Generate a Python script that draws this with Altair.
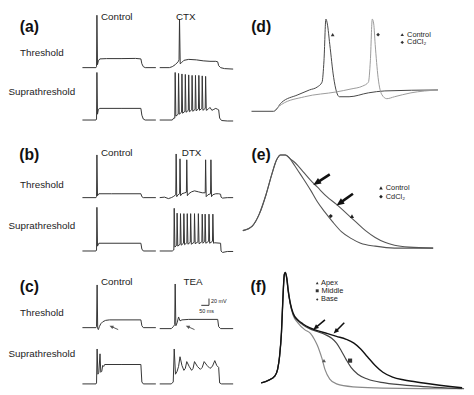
import math
import altair as alt
import pandas as pd

# ---------------- layout of the left column (reference-figure units) ----------------
COL_X0 = {"ctrl": 77, "drug": 157}
ROW_BASE = {"a_thr": 57, "a_sup": 111, "b_thr": 191, "b_sup": 246, "c_thr": 325, "c_sup": 383}

# ---------------- left column traces: (time, depolarisation) relative to trace start/baseline ----------------
A_CTRL_THR = [(0, 0), (14, 0), (14.6, 1), (15, 54), (15.6, 3), (16.5, 7), (18, 9), (25, 9.3), (40, 9.3),
              (55, 9.5), (60.5, 9), (61.5, 4), (63, 1), (65, 0), (76, 0)]
A_CTX_THR = [(0, 0), (10, 0), (13, 1), (16, 3), (19, 6), (20, 8), (20.5, 50), (21.2, 4), (22.5, 5), (25, 7.5),
             (30, 8.5), (38, 8), (45, 7), (52, 6.5), (58, 6.5), (60, 6), (61, 2), (63, 0), (67, -1), (76, -1.5)]
A_CTRL_SUP = [(0, 0), (14, 0), (14.6, 1), (15, 49), (15.6, 6), (16.5, 11), (18, 12), (40, 12), (60.5, 12),
              (61.5, 5), (63, 1), (65, 0), (76, 0)]
A_CTX_SUP_PRE = [(0, 0), (13, 0), (14.5, 2)]
A_CTX_SUP_SPIKES = [16, 19.5, 23, 26.5, 30, 33.5, 37, 40.5, 44, 47.5]
A_CTX_SUP_TOPS = [49, 48, 47.5, 47, 46.5, 46, 46, 46, 45.5, 45]
A_CTX_SUP_TROUGHS = [4, 6, 7, 8, 8.5, 9, 9.5, 10, 10, 10]
A_CTX_SUP_POST = [(50, 11), (52, 13), (54, 10), (56, 11), (58, 12), (60, 11), (61, 10.5), (62, 2), (64, -0.5),
                  (70, -1), (76, -1)]

B_CTRL_THR = [(0, 0), (14, 0), (14.6, 1), (15, 44), (15.6, 2), (17, 4), (30, 4), (60.5, 4), (61.5, 1), (63, 0), (76, 0)]
B_DTX_THR = [(0, 0), (5, 0.5), (9, -1), (12, 0), (14, 1), (16.6, 3), (17, 45), (17.6, 1), (19, 3), (20.6, 4),
             (21, 40), (21.6, 2), (23, 4), (26, 5), (27.6, 5.5), (28, 39), (28.6, 2), (30, 4), (33, 6), (36, 7),
             (40, 6), (44, 5), (47.1, 5), (47.5, 39), (48.1, 1), (50, 3), (52.6, 4), (53, 39), (53.6, 1), (55, 3),
             (58, 4), (61, 4), (63, 3.5), (63.5, 0.5), (65, -0.5), (70, 0), (76, 0)]
B_CTRL_SUP = [(0, 0), (14, 0), (14.6, 1), (15, 45), (15.6, 5), (17, 8), (60.5, 8), (61.5, 2), (63, 0), (76, 0)]
B_DTX_SUP_PRE = [(0, 0), (13, 0), (14.4, 1)]
B_DTX_SUP_SPIKES = [15, 18, 21.5, 25, 28.5, 32, 36, 40, 44, 47, 51, 55]
B_DTX_SUP_TOPS = [44, 39, 38.5, 38.5, 38.5, 38.5, 38.5, 38.5, 38, 38, 38, 38]
B_DTX_SUP_TROUGHS = [4, 5, 6, 6.5, 7, 7, 7.5, 7.5, 8, 8, 8, 8]
B_DTX_SUP_POST = [(57, 8.5), (63, 8), (63.5, 0), (65, -1.5), (70, -0.5), (76, -0.5)]

C_CTRL_THR = [(0, 0), (14, 0), (14.6, 1), (15.2, 44), (15.8, -1), (16.5, -2), (17.5, 1), (19, 4), (21, 6),
              (24, 7.5), (28, 8), (60.5, 8), (61.5, 2), (63, 0), (76, 0)]
C_TEA_THR = [(0, -1), (12, -1), (14, 1), (15.5, 3), (16, 45), (16.7, 2), (18, 5), (19.5, 11), (21, 7), (23, 8),
             (30, 8.5), (60, 8.5), (61, 1), (63, -1), (76, -1)]
C_CTRL_SUP = [(0, 0), (14, 0), (14.6, 1), (15.2, 36), (16, 10), (17, 12), (18.2, 31), (19, 12), (20, 13),
              (21, 19), (22, 18), (23, 20), (40, 20), (60.5, 20), (61.5, 2), (63, 0), (76, 0)]
C_TEA_SUP = [(0, 0), (12, 0), (14, 2), (15, 36), (16.3, 10), (18, 13), (19.5, 18), (21, 28), (23, 19), (25, 14),
             (26.5, 16), (28, 23), (30.5, 18), (33, 14), (34.5, 16), (36, 23), (39, 18), (42, 15), (44, 17),
             (46, 23), (49, 19), (52, 16), (54.5, 18), (57, 24), (59, 19), (61, 17), (62, 1), (64, 0), (76, 0)]

# ---------------- right column traces (figure units) ----------------
D_CTRL = [(252, 102), (275, 102), (283, 93), (300, 85), (312, 80), (320, 77), (325, 72), (327, 50), (329, 7),
          (330.5, 12), (333, 33), (337, 67), (340, 82), (343, 87), (353, 87), (373, 83), (390, 81), (445, 80)]
D_CDCL2 = [(275, 102), (283, 95), (307, 87), (340, 82), (355, 79), (367, 76), (373, 72), (375, 50), (377, 7),
           (378.5, 12), (380, 33), (383, 67), (387, 85), (392, 89), (400, 87), (417, 83), (445, 80)]

E_RISE = [(243, 225), (253, 220), (260, 208), (267, 188), (273, 167), (278, 152), (282, 147), (287, 147),
          (292, 151)]
E_CTRL = [(296, 154), (300, 158), (306, 165), (313, 173), (320, 180), (330, 190), (340, 198), (350, 207),
          (360, 216), (370, 225), (380, 232), (390, 237), (400, 240), (415, 242), (440, 243)]
E_CDCL2 = [(296, 157), (300, 163), (306, 172), (313, 183), (320, 195), (328, 206), (336, 216), (345, 226),
           (355, 233), (365, 238), (380, 241), (400, 243), (440, 243)]

F_RISE = [(262, 382), (270, 379), (276, 375), (279, 368), (281, 355), (283, 330), (284.5, 295), (286, 270)]
F_APEX = [(287, 268), (288.5, 273), (290, 285), (292, 300), (295, 312), (300, 320), (307, 327), (313, 331),
          (317, 337), (320, 343), (322, 348), (325, 357), (328, 368), (333, 378), (340, 383), (357, 386),
          (380, 387), (470, 388)]
F_MIDDLE = [(287, 269), (288.5, 275), (290, 288), (292, 300), (295, 311), (300, 318), (305, 322), (312, 326),
            (320, 329), (328, 332), (335, 336), (340, 341), (345, 349), (350, 358), (355, 366), (362, 373),
            (372, 378), (390, 382), (420, 385), (472, 388)]
F_BASE = [(287, 268), (288.5, 274), (290, 287), (292, 299), (295, 310), (300, 317), (305, 321), (312, 325),
          (320, 328), (330, 331), (340, 334), (350, 337), (358, 341), (365, 347), (372, 355), (380, 364),
          (388, 371), (398, 376), (410, 379), (430, 382), (470, 387)]

# ---------------- annotations ----------------
ARROWS = [  # tail x, tail y, head x, head y, colour, width, head size
    (114, 327, 105, 323, "#555555", 1.0, 22),
    (193, 327, 184, 323, "#555555", 1.0, 22),
    (333, 167, 316, 178, "#111111", 2.6, 80),
    (357, 187, 340, 199, "#111111", 2.6, 80),
    (328, 317, 316, 327, "#111111", 1.6, 40),
    (348, 320, 337, 331, "#111111", 1.6, 40),
]
SCALE_BARS = [(200, 302, 208, 302), (208, 295, 208, 302)]
MARKERS = [  # x, y, shape, colour, size
    (336, 23, "triangle-up", "#333333", 14), (383, 23, "diamond", "#333333", 14),
    (408, 23, "triangle-up", "#333333", 12), (408, 31, "diamond", "#333333", 12),
    (356, 210, "triangle-up", "#222222", 18), (334, 210, "diamond", "#222222", 18),
    (386, 181, "triangle-up", "#222222", 14), (386, 190, "diamond", "#222222", 14),
    (327, 359, "triangle-up", "#555555", 16), (354, 359, "square", "#333333", 18),
    (320, 279, "triangle-up", "#333333", 8), (320, 287, "square", "#333333", 9), (320, 296, "diamond", "#333333", 6),
]
PANEL_LABELS = [("(a)", 22, 15), ("(b)", 22, 147), ("(c)", 22, 283), ("(d)", 262, 15), ("(e)", 262, 147), ("(f)", 259, 283)]
HEADERS = [("Control", 112.5, 5), ("CTX", 184, 5), ("Control", 112.5, 145), ("DTX", 190, 145),
           ("Control", 112.5, 278), ("TEA", 191.5, 278),
           ("Threshold", 35, 42), ("Suprathreshold", 35, 82), ("Threshold", 35, 178), ("Suprathreshold", 35, 220),
           ("Threshold", 35, 310), ("Suprathreshold", 35, 352)]
LEGEND_TEXT = [("Control", 413, 23, 7.5), ("CdCl₂", 413, 31, 7.5), ("Control", 391, 181, 7.5), ("CdCl₂", 391, 190, 7.5),
               ("Apex", 324, 279, 7.5), ("Middle", 324.4, 287.3, 7.6), ("Base", 324, 296, 7.5),
               ("20 mV", 210, 298, 5.5), ("50 ms", 198, 308, 5.5)]


def train(pre, spikes, tops, troughs, post):
    pts = list(pre)
    for i, (s, top, tr) in enumerate(zip(spikes, tops, troughs)):
        before = troughs[i - 1] + 2.0 if i > 0 else pre[-1][1]
        pts += [(s - 0.4, before), (s, top), (s + 0.7, tr)]
    return pts + list(post)


A_CTX_SUP = train(A_CTX_SUP_PRE, A_CTX_SUP_SPIKES, A_CTX_SUP_TOPS, A_CTX_SUP_TROUGHS, A_CTX_SUP_POST)
B_DTX_SUP = train(B_DTX_SUP_PRE, B_DTX_SUP_SPIKES, B_DTX_SUP_TOPS, B_DTX_SUP_TROUGHS, B_DTX_SUP_POST)

LEFT = [
    ("a1", "ctrl", "a_thr", A_CTRL_THR), ("a2", "drug", "a_thr", A_CTX_THR),
    ("a3", "ctrl", "a_sup", A_CTRL_SUP), ("a4", "drug", "a_sup", A_CTX_SUP),
    ("b1", "ctrl", "b_thr", B_CTRL_THR), ("b2", "drug", "b_thr", B_DTX_THR),
    ("b3", "ctrl", "b_sup", B_CTRL_SUP), ("b4", "drug", "b_sup", B_DTX_SUP),
    ("c1", "ctrl", "c_thr", C_CTRL_THR), ("c2", "drug", "c_thr", C_TEA_THR),
    ("c3", "ctrl", "c_sup", C_CTRL_SUP), ("c4", "drug", "c_sup", C_TEA_SUP),
]

rows = []
for tid, col, row, pts in LEFT:
    for k, (t, v) in enumerate(pts):
        rows.append({"x": COL_X0[col] + t, "y": ROW_BASE[row] - v, "id": tid, "ord": k, "c": "#333333", "w": 1.0})
left_df = pd.DataFrame(rows)

RIGHT = [
    ("d1", D_CTRL, "#444444", 1.0), ("d2", D_CDCL2, "#9a9a9a", 1.0),
    ("e1", E_RISE + E_CTRL, "#555555", 1.1), ("e2", E_RISE + E_CDCL2, "#555555", 1.1),
    ("f1", F_RISE + F_APEX, "#8a8a8a", 1.2), ("f2", F_RISE + F_MIDDLE, "#444444", 1.2),
    ("f3", F_RISE + F_BASE, "#111111", 1.4),
]
rows = []
for tid, pts, c, w in RIGHT:
    for k, (x, y) in enumerate(pts):
        rows.append({"x": x, "y": y, "id": tid, "ord": k, "c": c, "w": w})
right_df = pd.DataFrame(rows)

# arrows: shaft + head
W, H = 466, 387
XD, YD = [2, 474], [2, 391]
SX = W / (XD[1] - XD[0])
shaft_rows, head_rows = [], []
for tx, ty, hx, hy, c, w, sz in ARROWS:
    dx, dy = hx - tx, hy - ty
    L = math.hypot(dx, dy)
    ux, uy = dx / L, dy / L
    r = math.sqrt(sz) / 2 / SX
    cx, cy = hx - ux * r, hy - uy * r
    ang = (math.degrees(math.atan2(dx, -dy)) + 360) % 360
    shaft_rows.append({"x": tx, "y": ty, "x2": cx, "y2": cy, "c": c, "w": w})
    head_rows.append({"x": cx, "y": cy, "ang": ang, "c": c, "s": sz})
for x1, y1, x2, y2 in SCALE_BARS:
    shaft_rows.append({"x": x1, "y": y1, "x2": x2, "y2": y2, "c": "#333333", "w": 1.0})
shaft_df = pd.DataFrame(shaft_rows)
head_df = pd.DataFrame(head_rows)

marker_df = pd.DataFrame([{"x": x, "y": y, "shape": s, "c": c, "s": sz} for x, y, s, c, sz in MARKERS])
panel_df = pd.DataFrame([{"x": x, "y": y, "t": t} for t, x, y in PANEL_LABELS])
head_txt_df = pd.DataFrame([{"x": x, "y": y, "t": t} for t, x, y in HEADERS])
leg_df = pd.DataFrame([{"x": x, "y": y, "t": t, "fs": fs} for t, x, y, fs in LEGEND_TEXT])

xs = alt.Scale(domain=XD, nice=False, zero=False)
ys = alt.Scale(domain=YD, nice=False, zero=False, reverse=True)
X = alt.X("x:Q", scale=xs, axis=None)
Y = alt.Y("y:Q", scale=ys, axis=None)
FONT = "Liberation Sans"
INK = alt.value("#222222")

left_layer = alt.Chart(left_df).mark_line(strokeJoin="round").encode(
    x=X, y=Y, detail="id:N", order="ord:Q",
    color=alt.Color("c:N", scale=None), strokeWidth=alt.StrokeWidth("w:Q", scale=None))
right_layer = alt.Chart(right_df).mark_line(interpolate="monotone", strokeJoin="round").encode(
    x=X, y=Y, detail="id:N", order="ord:Q",
    color=alt.Color("c:N", scale=None), strokeWidth=alt.StrokeWidth("w:Q", scale=None))
shafts = alt.Chart(shaft_df).mark_rule().encode(
    x=X, y=Y, x2="x2:Q", y2="y2:Q",
    color=alt.Color("c:N", scale=None), strokeWidth=alt.StrokeWidth("w:Q", scale=None))
heads = alt.Chart(head_df).mark_point(filled=True, opacity=1, shape="M0,-1L0.75,0.75L-0.75,0.75Z").encode(
    x=X, y=Y, angle=alt.Angle("ang:Q", scale=None),
    color=alt.Color("c:N", scale=None), size=alt.Size("s:Q", scale=None))
markers = alt.Chart(marker_df).mark_point(filled=True, opacity=1).encode(
    x=X, y=Y, shape=alt.Shape("shape:N", scale=None),
    color=alt.Color("c:N", scale=None), size=alt.Size("s:Q", scale=None))
panels = alt.Chart(panel_df).mark_text(font=FONT, fontSize=16, fontWeight="bold", align="center",
                                       baseline="middle").encode(x=X, y=Y, text="t:N", color=alt.value("#111111"))
headers = alt.Chart(head_txt_df).mark_text(font=FONT, fontSize=10, align="center", baseline="middle").encode(
    x=X, y=Y, text="t:N", color=INK)
legend_txt = alt.Chart(leg_df).mark_text(font=FONT, align="left", baseline="middle").encode(
    x=X, y=Y, text="t:N", size=alt.Size("fs:Q", scale=None), color=INK)

chart = alt.layer(left_layer, right_layer, shafts, heads, markers, panels, headers, legend_txt).properties(
    width=W, height=H, padding=0, background="white",
    autosize=alt.AutoSizeParams(type="fit", contains="padding"),
).configure_view(stroke=None)

chart.save("out.html", embed_options={"renderer": "svg", "actions": False})
